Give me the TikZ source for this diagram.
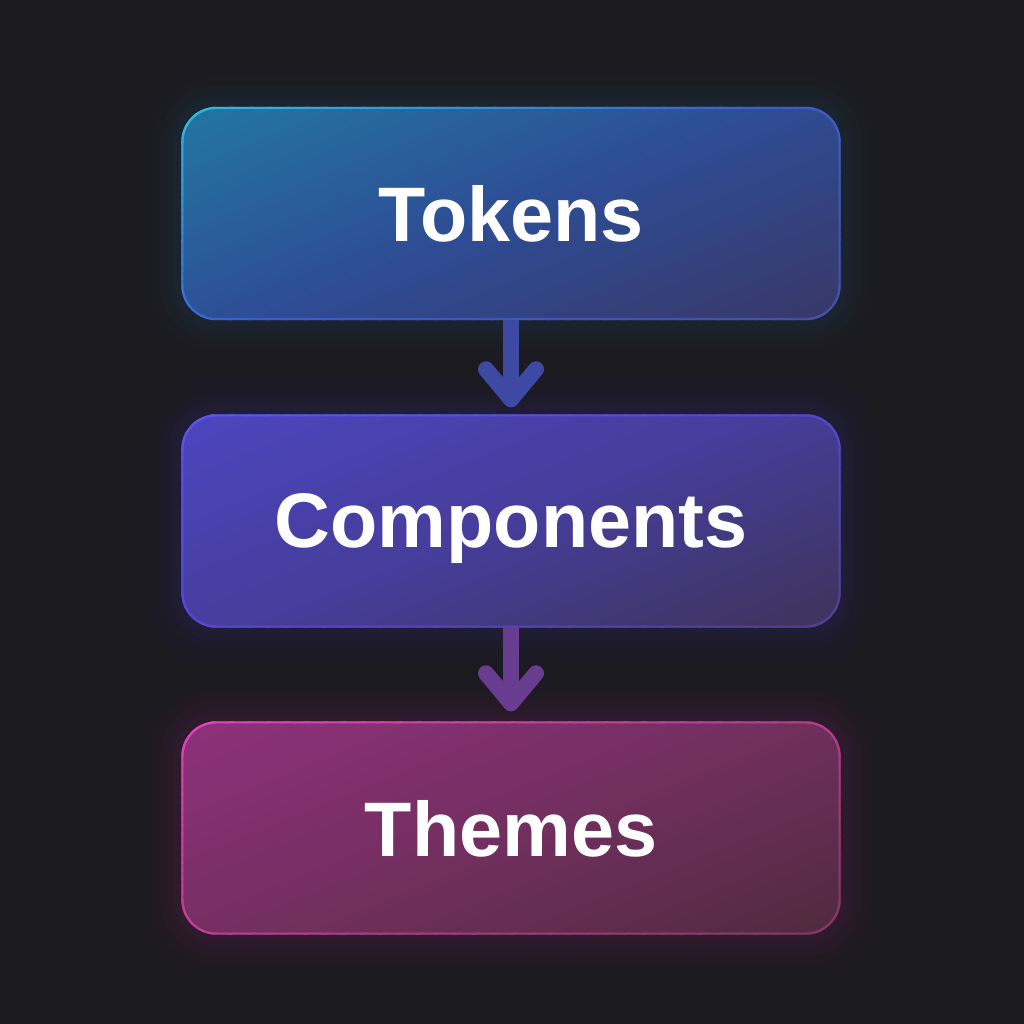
\documentclass[tikz,border=0pt]{standalone}
\usepackage{fontspec}
\setmainfont{Liberation Sans}
\usetikzlibrary{calc}
\pgfdeclarelayer{bglayer}
\pgfdeclarelayer{under}
\pgfsetlayers{bglayer,under,main}
\definecolor{bg}{HTML}{1B1A1F}
\definecolor{aTL}{HTML}{2375A2}
\definecolor{aMid}{HTML}{2E4C94}
\definecolor{aBR}{HTML}{393766}
\definecolor{aBd1}{HTML}{2FBAE2}
\definecolor{aBd2}{HTML}{3B5CCA}
\definecolor{aBd3}{HTML}{454FA8}
\definecolor{aGlow}{HTML}{1F7398}
\definecolor{bTL}{HTML}{4C45BE}
\definecolor{bMid}{HTML}{463D9A}
\definecolor{bBR}{HTML}{3D3358}
\definecolor{bBd1}{HTML}{5E54EA}
\definecolor{bBd2}{HTML}{5546D4}
\definecolor{bBd3}{HTML}{543E8E}
\definecolor{bGlow}{HTML}{4A3FB8}
\definecolor{cTL}{HTML}{8E307B}
\definecolor{cMid}{HTML}{722F5F}
\definecolor{cBR}{HTML}{4F2A3D}
\definecolor{cBd1}{HTML}{E442B4}
\definecolor{cBd2}{HTML}{B83C8E}
\definecolor{cBd3}{HTML}{7E385E}
\definecolor{cGlow}{HTML}{B53095}
\definecolor{arrA}{HTML}{3D49A2}
\definecolor{arrB}{HTML}{683D90}
\tikzset{
  box/.style={minimum width=6.58cm, minimum height=2.12cm,
    inner sep=0pt, text=white, font=\fontsize{22}{26}\selectfont\bfseries},
  arrowline/.style={line width=0.16cm, line cap=round, line join=round},
}
\newcommand{\nodepthtext}[1]{\raisebox{0pt}[\height][0pt]{#1}}
% diagonal gradient strips centred on a node: #1 node, #2 #3 #4 colours
\newcommand{\gradstrips}[4]{%
  \begin{scope}[shift={(#1.center)}, rotate=-68]
    \foreach \i in {0,...,63}{
      \pgfmathsetmacro\xa{-2.25+\i*4.5/64}
      \pgfmathsetmacro\xb{\xa+4.5/64+0.012}
      \pgfmathsetmacro\ss{(\xa+2.2)/4.4}
      \pgfmathtruncatemacro\pa{min(100,max(0,200*\ss))}
      \pgfmathtruncatemacro\pb{min(100,max(0,200*\ss-100))}
      \colorlet{tmpc}{#3!\pa!#2}
      \colorlet{tmpd}{#4!\pb!tmpc}
      \fill[tmpd] (\xa,-4) rectangle (\xb,4);
    }
  \end{scope}}
\newcommand{\gradbox}[7]{%
  \begin{scope}[rounded corners=0.35cm]
    \clip (#1.south west) rectangle (#1.north east);
    \gradstrips{#1}{#2}{#3}{#4}
  \end{scope}
  \begin{scope}[even odd rule, rounded corners=0.35cm]
    \clip (#1.south west) rectangle (#1.north east)
      [rounded corners=0.33cm] ([shift={(0.022,0.022)}]#1.south west) rectangle ([shift={(-0.022,-0.022)}]#1.north east);
    \gradstrips{#1}{#5}{#6}{#7}
  \end{scope}}
\newcommand{\glowbox}[2]{%
  \foreach \w/\o in {0.8/0.02,0.6/0.025,0.42/0.03,0.26/0.035,0.14/0.045}{
    \draw[line width=\w cm, draw=#2, opacity=\o, rounded corners=0.35cm]
      (#1.south west) rectangle (#1.north east);}}
\begin{document}
\begin{tikzpicture}
\begin{pgfonlayer}{bglayer}
\fill[bg] (0,0) rectangle (10.24,10.24);
\end{pgfonlayer}
\useasboundingbox (0,0) rectangle (10.24,10.24);

\node[box] (t) at (5.11,8.105) {\nodepthtext{Tokens}};
\node[box] (c) at (5.11,5.03) {\nodepthtext{Components}};
\node[box] (h) at (5.11,1.96) {\nodepthtext{Themes}};

\begin{pgfonlayer}{under}
\glowbox{t}{aGlow}
\glowbox{c}{bGlow}
\glowbox{h}{cGlow}
\coordinate (tip1) at ($(c.north)+(0,0.15)$);
\coordinate (tip2) at ($(h.north)+(0,0.18)$);
\draw[arrowline, arrA] (t.south) -- (tip1);
\draw[arrowline, arrA] ($(tip1)+(-0.25,0.30)$) -- (tip1) -- ($(tip1)+(0.25,0.30)$);
\draw[arrowline, arrB] (c.south) -- (tip2);
\draw[arrowline, arrB] ($(tip2)+(-0.25,0.30)$) -- (tip2) -- ($(tip2)+(0.25,0.30)$);
\gradbox{t}{aTL}{aMid}{aBR}{aBd1}{aBd2}{aBd3}
\gradbox{c}{bTL}{bMid}{bBR}{bBd1}{bBd2}{bBd3}
\gradbox{h}{cTL}{cMid}{cBR}{cBd1}{cBd2}{cBd3}
\end{pgfonlayer}
\end{tikzpicture}
\end{document}
